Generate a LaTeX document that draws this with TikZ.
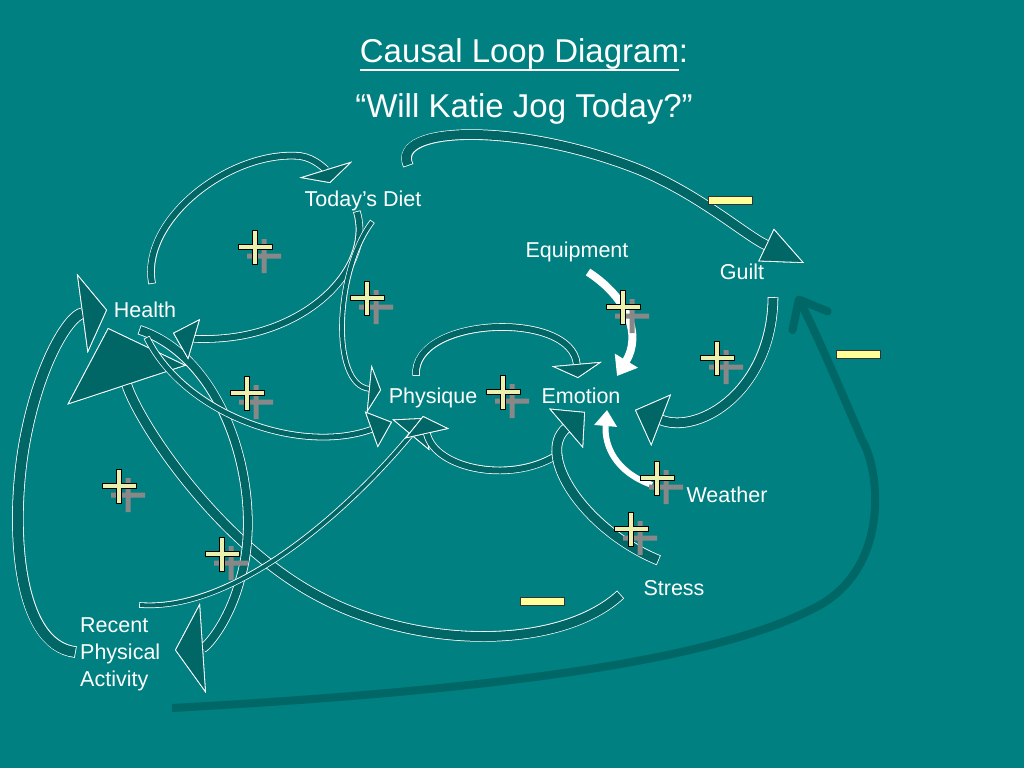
\documentclass[tikz,border=0pt]{standalone}
\usepackage{fontspec}
\setmainfont{Liberation Sans}
\usetikzlibrary{arrows.meta}

\definecolor{slide}{RGB}{0,128,128}
\definecolor{loopfill}{RGB}{0,102,102}
\definecolor{plusfill}{RGB}{235,240,175}
\definecolor{plusshade}{RGB}{136,136,136}
\definecolor{minusfill}{RGB}{255,255,153}

\tikzset{
  factor/.style={text=white, font=\fontsize{21.5}{27}\selectfont, inner sep=0pt, anchor=base},
  loopline/.style={draw=loopfill, line width=#1,
    preaction={draw=white, line width=#1+1.6pt, shorten <=-0.8pt}},
  loopline/.default=6pt,
  blockhead/.style 2 args={-{Triangle[length=#1, width=#2, fill=loopfill, color=white, line width=0.8pt]}},
  whiteline/.style={draw=white, line width=#1},
  whitehead/.style 2 args={-{Triangle[length=#1, width=#2]}},
  longline/.style={draw=loopfill, line width=8pt, -{Straight Barb[length=24pt, width=40pt, round]}},
  plussign/.pic={
    \fill[plusshade, shift={(9,9)}] (-17,-2.5) -- (-2.5,-2.5) -- (-2.5,-17) -- (2.5,-17) -- (2.5,-2.5) -- (17,-2.5)
      -- (17,2.5) -- (2.5,2.5) -- (2.5,17) -- (-2.5,17) -- (-2.5,2.5) -- (-17,2.5) -- cycle;
    \filldraw[fill=plusfill, draw=black, line width=1pt] (-17,-2.5) -- (-2.5,-2.5) -- (-2.5,-17) -- (2.5,-17) -- (2.5,-2.5) -- (17,-2.5)
      -- (17,2.5) -- (2.5,2.5) -- (2.5,17) -- (-2.5,17) -- (-2.5,2.5) -- (-17,2.5) -- cycle;
  },
  minussign/.pic={
    \filldraw[fill=minusfill, draw=black!80, line width=1pt] (-22,-4) rectangle (22,4);
  }
}

\begin{document}
\begin{tikzpicture}[x=1pt, y=-1pt]
\fill[slide] (0,0) rectangle (1024,768);
\useasboundingbox (0,0) rectangle (1024,768);

% ends of the loops
\foreach \n/\x/\y in {hd0/152/283, hd1/330/183, dh0/357/212, dh1/173/333,
                      dp0/372/222, dp1/381/390, dg0/408/165, dg1/804/263,
                      hp0/147/338, hp1/392/422, ha0/140/330, ha1/175/650,
                      ah0/75/652, ah1/107/310, ap0/140/605, ap1/425/418,
                      ag0/172/708, ag1/797/296, sh0/620/595, sh1/108/328,
                      pe0/416/375, pe1/578/378, ep0/560/453, ep1/423/416,
                      se0/658/560, se1/585/412, we0/652/485, we1/607/410,
                      qe0/588/272, qe1/617/376, ge0/773/298, ge1/635/410}{
    \coordinate (\n) at (\x,\y);
}

\draw[longline] (ag0) .. controls (500,690) and (720,660) .. (820,605)
    .. controls (890,565) and (880,470) .. (862,440) .. controls (845,400) and (815,330) .. (ag1);

\draw[loopline=9pt, blockhead={60pt}{125pt}] (sh0) .. controls (560,650) and (420,650) .. (320,597)
    .. controls (220,545) and (140,425) .. (sh1);
\draw[loopline=8pt, blockhead={28pt}{90pt}] (ha0) .. controls (230,360) and (265,500) .. (240,580)
    .. controls (228,625) and (205,648) .. (ha1);
\draw[loopline=10pt, blockhead={25pt}{80pt}] (ah0) .. controls (15,645) and (10,520) .. (25,440)
    .. controls (40,360) and (70,315) .. (ah1);
\draw[loopline=9pt, blockhead={42pt}{36pt}] (dg0) .. controls (390,125) and (520,122) .. (640,170)
    .. controls (700,195) and (745,235) .. (dg1);
\draw[loopline=6pt, blockhead={14pt}{55pt}] (hd0) .. controls (140,220) and (230,150) .. (300,156)
    .. controls (315,158) and (326,170) .. (hd1);
\draw[loopline=6pt, blockhead={22pt}{42pt}] (dh0) .. controls (372,262) and (320,322) .. (240,336)
    .. controls (210,341) and (190,338) .. (dh1);
\draw[loopline=4pt, blockhead={12pt}{48pt}] (dp0) .. controls (335,270) and (330,385) .. (dp1);
\draw[loopline=5pt, blockhead={22pt}{38pt}] (hp0) .. controls (185,415) and (300,455) .. (hp1);
\draw[loopline=4pt, blockhead={22pt}{48pt}] (ap0) .. controls (230,612) and (340,520) .. (ap1);
\draw[loopline=6pt, blockhead={18pt}{45pt}] (ep0) .. controls (515,485) and (435,470) .. (ep1);
\draw[loopline=6pt, blockhead={14pt}{50pt}] (pe0) .. controls (412,316) and (572,310) .. (pe1);
\draw[loopline=9pt, blockhead={25pt}{52pt}] (se0) .. controls (585,530) and (535,455) .. (se1);
\draw[loopline=9pt, blockhead={28pt}{55pt}] (ge0) .. controls (772,390) and (700,435) .. (ge1);

\draw[whiteline=6pt, whitehead={16pt}{22pt}] (we0) .. controls (615,472) and (604,445) .. (we1);
\draw[whiteline=8pt, whitehead={18pt}{26pt}] (qe0) .. controls (628,298) and (642,335) .. (qe1);

\foreach \x/\y in {255/247, 367/298, 623/307, 717/358, 503/392,
                   247/393, 119/486, 222/554, 657/478, 631/529}{
    \pic at (\x,\y) {plussign};
}
\foreach \x/\y in {730/200, 858/354, 542/601}{
    \pic at (\x,\y) {minussign};
}

\node[factor, font=\fontsize{33}{40}\selectfont] (title) at (519.5,63) {Causal Loop Diagram\rlap{:}};
\draw[white, line width=2pt] ([yshift=-7pt]title.base west) -- ([yshift=-7pt]title.base east);
\node[factor, font=\fontsize{33}{40}\selectfont] (question) at (524,117) {“Will Katie Jog Today?”};

\node[factor] (diet) at (363,206) {Today’s Diet};
\node[factor] (health) at (145,317) {Health};
\node[factor] (equip) at (577,257) {Equipment};
\node[factor] (guilt) at (742,279) {Guilt};
\node[factor] (physique) at (433,403) {Physique};
\node[factor] (emotion) at (581,403) {Emotion};
\node[factor] (weather) at (727,502) {Weather};
\node[factor] (stress) at (674,595) {Stress};
\node[factor, anchor=north west, align=left] (activity) at (80,617) {Recent\\Physical\\Activity};
\end{tikzpicture}
\end{document}
